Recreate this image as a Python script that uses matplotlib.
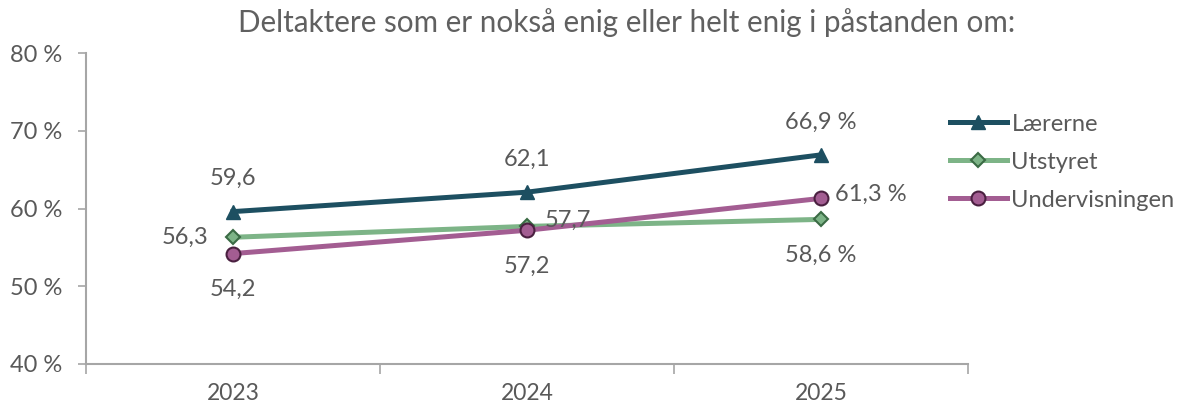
import matplotlib
matplotlib.use("Agg")
import matplotlib.pyplot as plt

years = ["2023", "2024", "2025"]
laererne = [59.6, 62.1, 66.9]
utstyret = [56.3, 57.7, 58.6]
undervisningen = [54.2, 57.2, 61.3]
series_names = ["Lærerne", "Utstyret", "Undervisningen"]
title = "Deltaktere som er nokså enig eller helt enig i påstanden om:"

plt.rcParams['font.family'] = ['Lato', 'DejaVu Sans']
txt = '#595959'

fig = plt.figure(figsize=(11.8, 4.08), dpi=100)
ax = fig.add_axes([86/1180, 1-364/408, (968-86)/1180, (364-53)/408])

x = list(range(len(years)))
c1, c2, c3 = '#1D4F61', '#7DB487', '#A35D92'
ax.plot(x, laererne, color=c1, lw=3.6, marker='^', ms=10, mfc=c1, mec=c1, label=series_names[0], zorder=3)
ax.plot(x, utstyret, color=c2, lw=3.6, marker='D', ms=7, mfc=c2, mec='#3B6B45', mew=1.5, label=series_names[1], zorder=3)
ax.plot(x, undervisningen, color=c3, lw=3.6, marker='o', ms=10, mfc=c3, mec='#4A2040', mew=1.5, label=series_names[2], zorder=3)

ax.set_xlim(-0.5, 2.5)
ax.set_ylim(40, 80)
ax.set_yticks([40, 50, 60, 70, 80])
ax.set_yticklabels([f"{v} %" for v in [40, 50, 60, 70, 80]])
ax.set_xticks(x)
ax.set_xticklabels(years)
ax.set_xticks([-0.5, 0.5, 1.5, 2.5], minor=True)
ax.tick_params(axis='x', which='major', length=0, pad=14, labelsize=16.5, labelcolor=txt)
ax.tick_params(axis='x', which='minor', length=7, color='#A6A6A6', width=1.2)
ax.tick_params(axis='y', length=6, color='#A6A6A6', width=1.2, labelsize=17, labelcolor=txt, pad=11)
for s in ['top', 'right']:
    ax.spines[s].set_visible(False)
for s in ['left', 'bottom']:
    ax.spines[s].set_color('#A6A6A6')
    ax.spines[s].set_linewidth(1.5)

def fmt(v, pct=False):
    s = f"{v:.1f}".replace('.', ',')
    return s + (" %" if pct else "")

fs = 17
P = 0.72  # points per pixel

def lab(text, xy, dx, dy, ha):
    ax.annotate(text, xy, xytext=(dx * P, dy * P), textcoords='offset points',
                ha=ha, va='center', fontsize=fs, color=txt)

# Lærerne: above
for i, v in enumerate(laererne):
    lab(fmt(v, i == 2), (i, v), 0, 33, 'center')
# Utstyret
lab(fmt(utstyret[0]), (0, utstyret[0]), -25, 0, 'right')
lab(fmt(utstyret[1]), (1, utstyret[1]), 18, 6, 'left')
lab(fmt(utstyret[2], True), (2, utstyret[2]), 0, -36, 'center')
# Undervisningen
lab(fmt(undervisningen[0]), (0, undervisningen[0]), 0, -36, 'center')
lab(fmt(undervisningen[1]), (1, undervisningen[1]), 0, -36, 'center')
lab(fmt(undervisningen[2], True), (2, undervisningen[2]), 14, 4, 'left')

fig.text(627/1180, 1-23/408, title, ha='center', va='center', fontsize=21.3, color='#606060')

leg = ax.legend(loc='center left', bbox_to_anchor=((950-86)/882, 1-(162-53)/311),
                frameon=False, fontsize=17, labelcolor=txt, handlelength=2.4, handletextpad=0.2,
                labelspacing=0.72, borderaxespad=0, borderpad=0)

fig.savefig('out.png', dpi=100)
